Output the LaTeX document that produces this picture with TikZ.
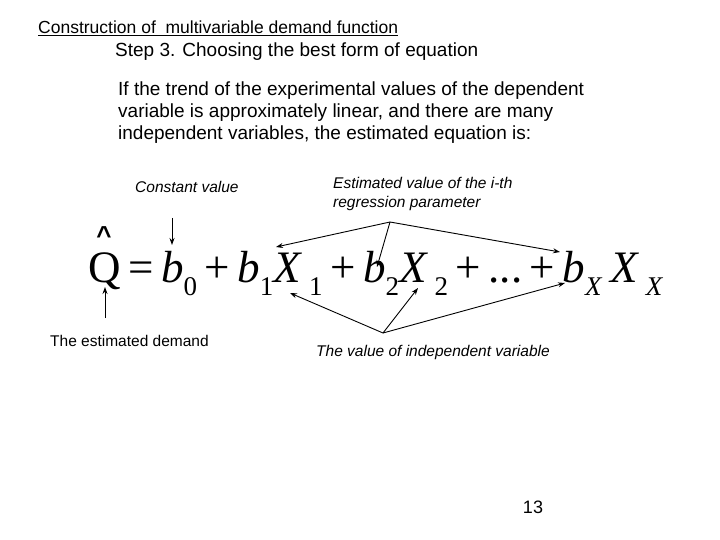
\documentclass[tikz,border=0pt]{standalone}
\usepackage{fontspec}
\setmainfont{Liberation Sans}
\newfontfamily\eqfont{Liberation Serif}
\usetikzlibrary{arrows.meta}
\newcommand{\sbx}[1]{\raisebox{-13pt}{\fontsize{27}{27}\selectfont #1}}
\begin{document}
\begin{tikzpicture}[x=1pt,y=-1pt,
  lbl/.style={inner sep=0pt,anchor=west,font=\fontsize{15.5}{19}\selectfont\itshape},
  arr/.style={-{Stealth[length=7pt,width=5pt]},line width=0.9pt}]
\useasboundingbox (0,0) rectangle (720,540);
\node[anchor=west,inner sep=0pt,font=\fontsize{17.5}{20}\selectfont] (title) at (38,27) {Construction of\ \ multivariable demand function};
\draw[line width=0.8pt] ([yshift=-1.5pt]title.south west) -- ([yshift=-1.5pt]title.south east);
\node[anchor=west,inner sep=0pt,font=\fontsize{19}{22}\selectfont] (step) at (115,52) {Step 3. Choosing the best form of equation};
\node[anchor=north west,inner sep=0pt,align=left,font=\fontsize{19}{22}\selectfont] (para) at (118,82) {If the trend of the experimental values of the dependent\\variable is approximately linear, and there are many\\independent variables, the estimated equation is:};
\node[lbl] (const) at (135,187) {Constant value};
\node[lbl,anchor=north west,align=left] (est) at (333,177) {Estimated value of the i-th\\regression parameter};
\node[lbl,font=\fontsize{15.5}{19}\selectfont] (dem) at (50,341) {The estimated demand};
\node[lbl] (ind) at (316,352) {The value of independent variable};
\node[inner sep=0pt,font=\fontsize{18}{20}\selectfont] (pg) at (533,507) {13};
% equation
\node[anchor=base west,inner sep=0pt,font=\eqfont\fontsize{45}{45}\selectfont] (eq) at (88,282)
 {Q\,=\,\textit{b}\sbx{0}\,+\,\textit{b}\sbx{1}\textit{X}\sbx{\ 1}\,+\,\textit{b}\sbx{2}\textit{X}\sbx{\ 2}\,+\,...\,+\,\textit{b}\sbx{\textit{X}}\,\textit{X}\sbx{\ \textit{X}}};
\node[inner sep=0pt,font=\fontsize{26}{26}\selectfont\bfseries] (hat) at (104,236) {\textasciicircum};
\coordinate (c1) at (172,218); \coordinate (c2) at (172,245);
\coordinate (t0) at (390,222);
\coordinate (t1) at (276,247); \coordinate (t2) at (377,267); \coordinate (t3) at (560,252);
\coordinate (u0) at (383,333);
\coordinate (u1) at (290,293); \coordinate (u2) at (418,288); \coordinate (u3) at (565,283);
\coordinate (d1) at (105,318); \coordinate (d2) at (105,287);
\draw[arr] (c1) -- (c2);
\draw[arr] (t0) -- (t1); \draw[arr] (t0) -- (t2); \draw[arr] (t0) -- (t3);
\draw[arr] (u0) -- (u1); \draw[arr] (u0) -- (u2); \draw[arr] (u0) -- (u3);
\draw[arr] (d1) -- (d2);
\end{tikzpicture}
\end{document}
